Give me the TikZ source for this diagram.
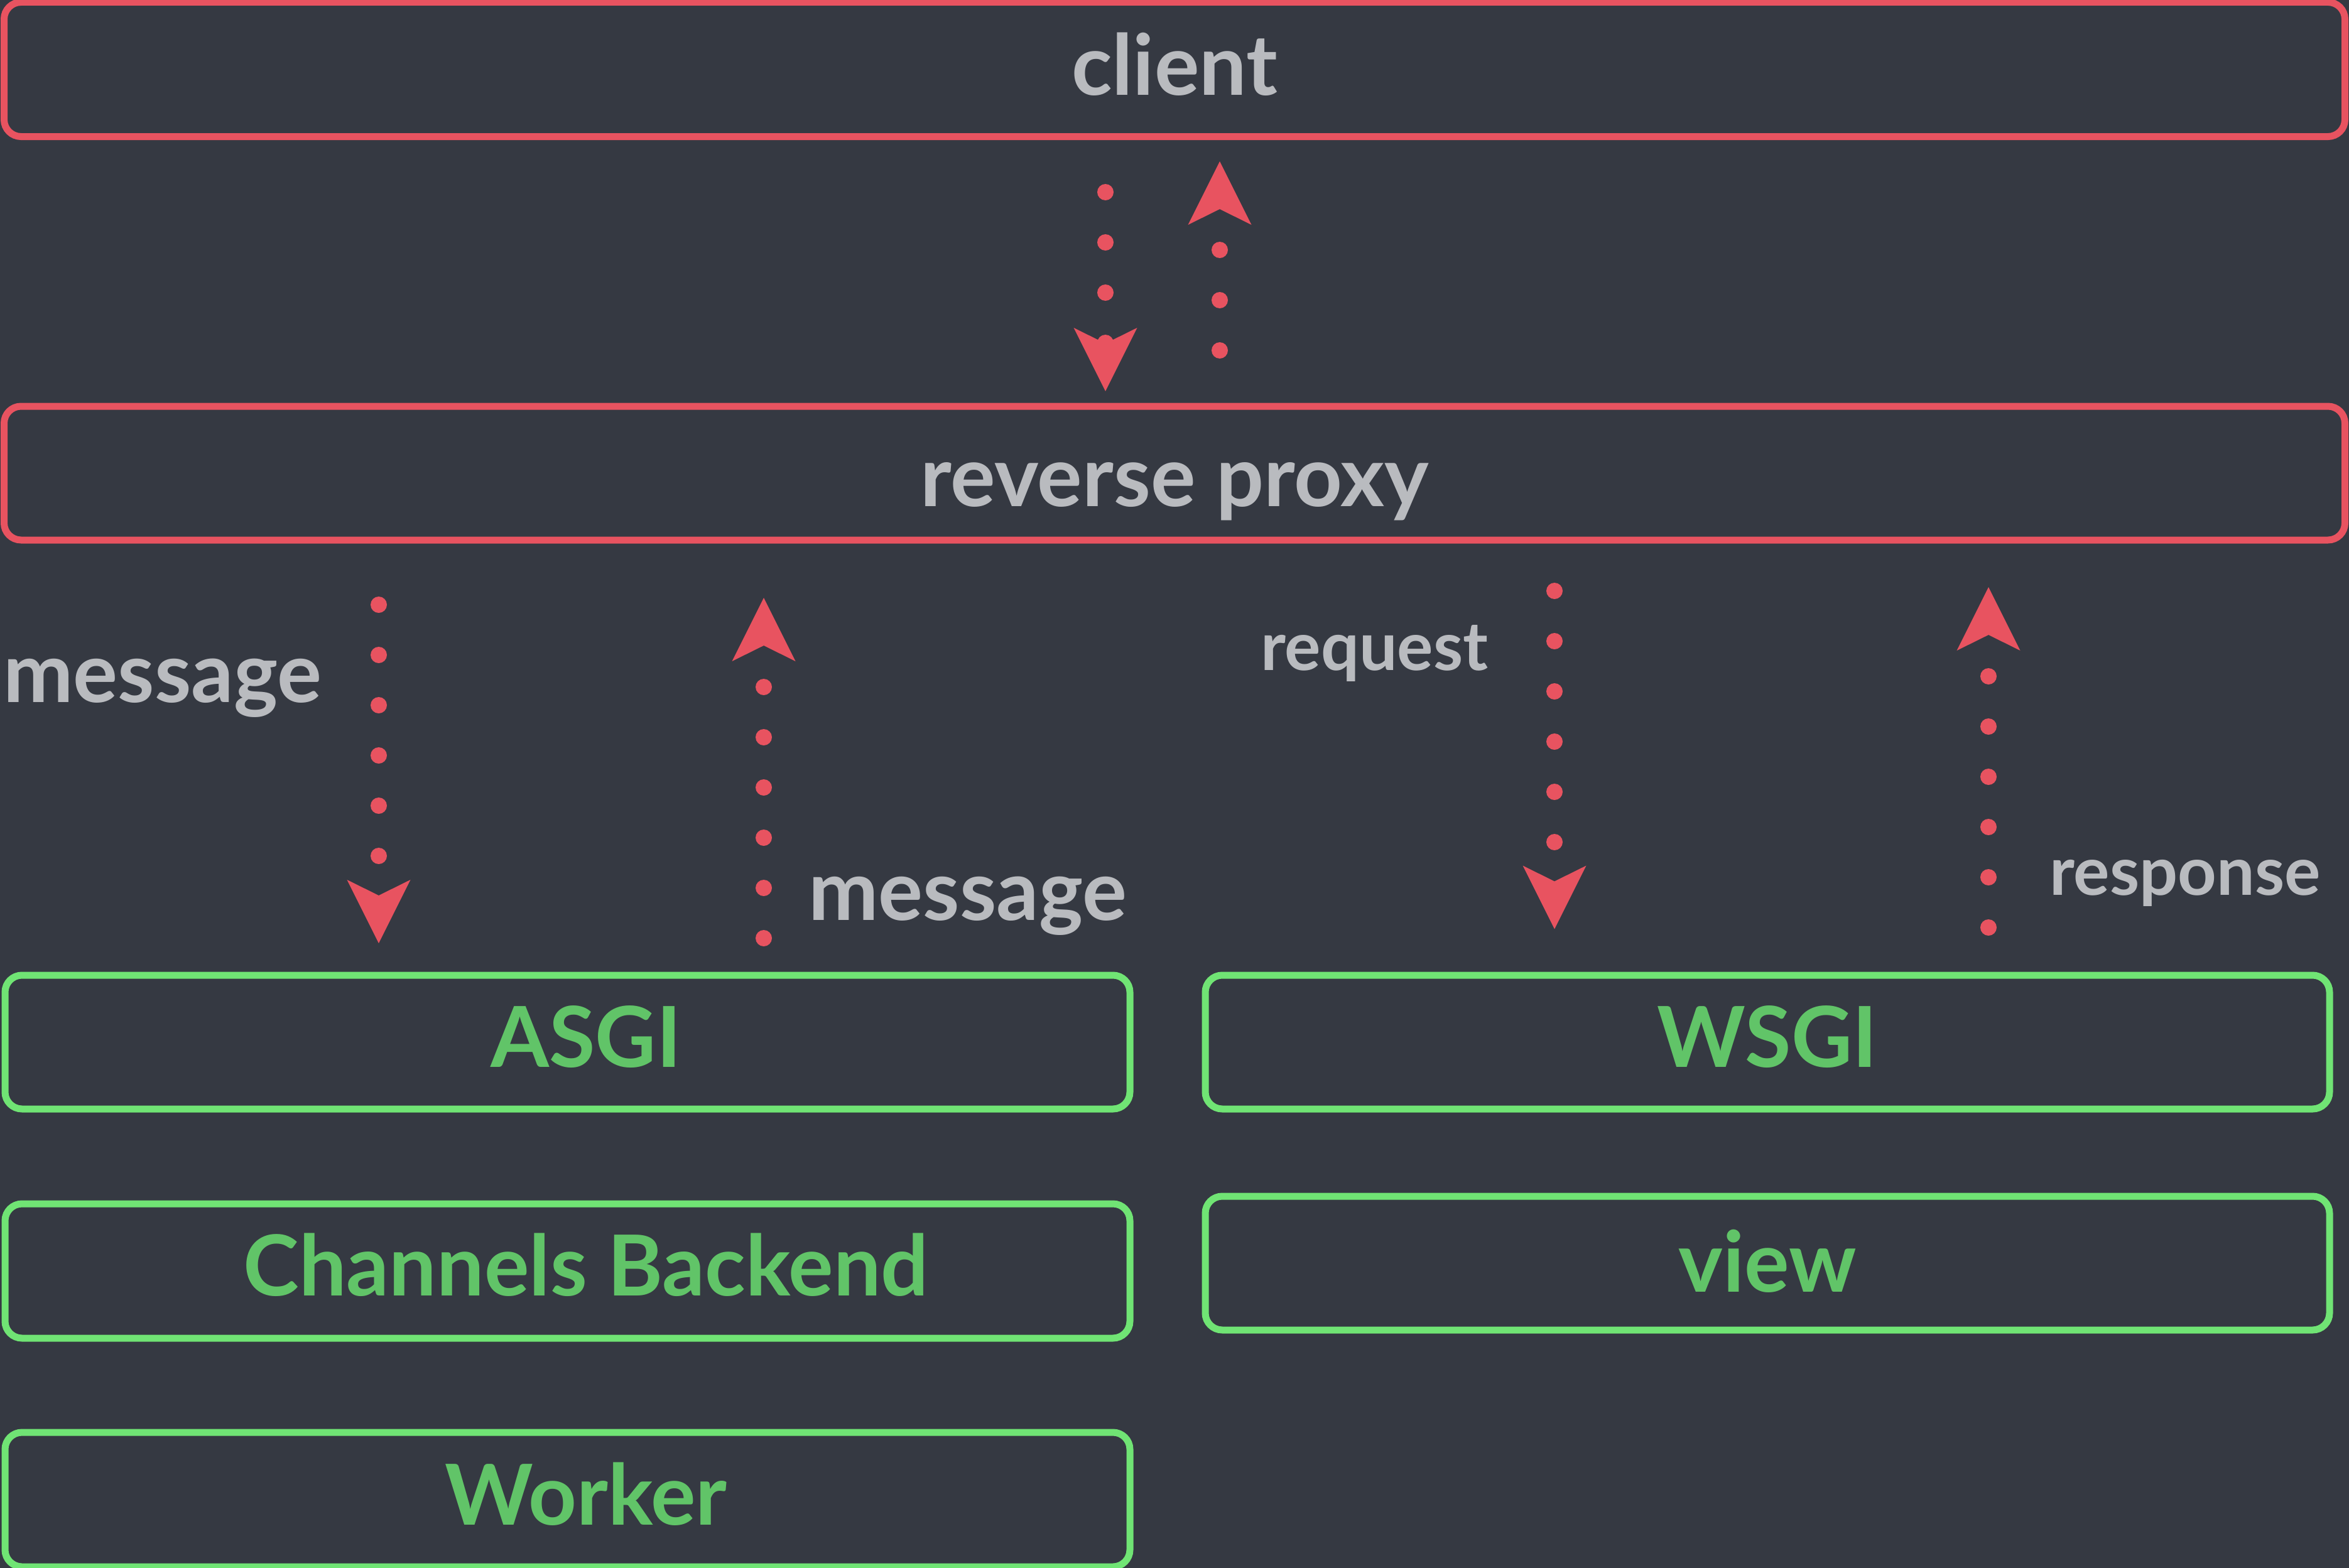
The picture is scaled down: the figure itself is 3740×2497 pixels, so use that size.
\documentclass[tikz,border=0pt]{standalone}
\usepackage{fontspec}
\setmainfont{Lato}
\usetikzlibrary{arrows.meta}

\definecolor{bgcol}{HTML}{353942}
\definecolor{redline}{HTML}{E85360}
\definecolor{greenline}{HTML}{70E474}
\definecolor{greentext}{HTML}{61C468}
\definecolor{greytext}{HTML}{B9BBBF}

\tikzset{
  % rounded frame; the text baseline sits half of #1 below the frame centre
  frame/.style={draw, line width=11pt, rounded corners=27pt, inner sep=0pt,
    outer sep=0pt, text depth=0pt, text height=#1,
    font=\fontsize{134}{160}\selectfont\bfseries},
  redframe/.style={frame=#1, draw=redline, text=greytext},
  greenframe/.style={frame=#1, draw=greenline, text=greentext},
  % moves the text of a frame to the right by half the given amount
  pushtext/.style={execute at begin node={\hspace*{#1}}},
  biglabel/.style={text=greytext, inner sep=0pt, anchor=base west,
    font=\fontsize{133}{160}\selectfont\bfseries},
  smalllabel/.style={text=greytext, inner sep=0pt, anchor=base west,
    font=\fontsize{107.5}{130}\selectfont\bfseries},
  flow/.style={draw=redline, line width=26pt, line cap=round,
    dash pattern=on 0pt off 80pt,
    -{Stealth[length=101pt, width=101pt, inset=25pt, line width=0pt]}},
}

\begin{document}
\begin{tikzpicture}[x=1pt, y=-1pt]
  \useasboundingbox (0,0) rectangle (3740,2497);
  \fill[bgcol] (0,0) rectangle (3740,2497);

  % top row
  \node[redframe=81pt, minimum width=3727pt, minimum height=214pt]
    (client) at (1870,110.5) {client};
  \node[redframe=105pt, minimum width=3727pt, minimum height=213pt]
    (proxy) at (1870,753.5) {reverse proxy};

  % asynchronous side
  \node[greenframe=79pt, pushtext=59pt, minimum width=1791pt, minimum height=213pt]
    (asgi) at (903.5,1659.5) {ASGI};
  \node[greenframe=78pt, pushtext=59pt, minimum width=1791pt, minimum height=214pt]
    (backend) at (903.5,2024) {Channels Backend};
  \node[greenframe=81pt, pushtext=59pt, minimum width=1791pt, minimum height=214pt]
    (worker) at (903.5,2388) {Worker};

  % synchronous side
  \node[greenframe=79pt, minimum width=1790pt, minimum height=213pt]
    (wsgi) at (2814,1659.5) {WSGI};
  \node[greenframe=92pt, minimum width=1790pt, minimum height=213pt]
    (view) at (2814,2011.5) {view};

  % connector ends
  \coordinate (cp-a) at (1760,306);   \coordinate (cp-b) at (1760,623);
  \coordinate (pc-a) at (1942,558);   \coordinate (pc-b) at (1942,257);
  \coordinate (pa-a) at (603,963);    \coordinate (pa-b) at (603,1502);
  \coordinate (ap-a) at (1216,1494);  \coordinate (ap-b) at (1216,952);
  \coordinate (pw-a) at (2475,941);   \coordinate (pw-b) at (2475,1479.5);
  \coordinate (wp-a) at (3166,1477);  \coordinate (wp-b) at (3166,935);

  \draw[flow] (cp-a) -- (cp-b);
  \draw[flow] (pc-a) -- (pc-b);
  \draw[flow] (pa-a) -- (pa-b);
  \draw[flow] (ap-a) -- (ap-b);
  \draw[flow] (pw-a) -- (pw-b);
  \draw[flow] (wp-a) -- (wp-b);

  % connector labels
  \node[biglabel] (msg-in) at (5,1118) {message};
  \node[biglabel] (msg-out) at (1287,1465) {message};
  \node[smalllabel] (req) at (2007,1067) {request};
  \node[smalllabel] (resp) at (3263,1425) {response};
\end{tikzpicture}
\end{document}
